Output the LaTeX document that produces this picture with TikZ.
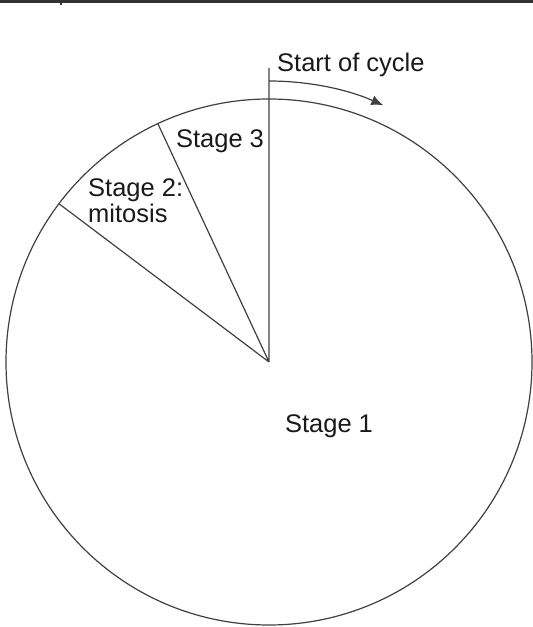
\documentclass[tikz,border=0pt]{standalone}
\usepackage{fontspec}
\setmainfont{Liberation Sans}
\usetikzlibrary{arrows.meta,calc}

\begin{document}
\begin{tikzpicture}[x=1pt,y=1pt,
            pie/.style={draw=black!75,line width=1.2pt},
            lbl/.style={font=\fontsize{25.5}{26}\selectfont,inner sep=0pt,text=black!90}]
            \useasboundingbox (0,0) rectangle (533,627);
            % frame line at the top
            \draw[line width=2.5pt,black!80] (0,625.5) -- (533,625.5);
            \draw[line width=1.5pt,black!80] (61,627) -- (61,622);
            % the cycle
            \coordinate (o) at (269,265);
            \draw[pie] (o) circle (263);
            \coordinate (top) at ($(o)+(90:294)$);
            \coordinate (s3) at ($(o)+(115:263)$);
            \coordinate (s2) at ($(o)+(143:263)$);
            \draw[pie] (o) -- (top) (o) -- (s3) (o) -- (s2);
            \coordinate (a) at ($(o)+(90:281)$);
            \draw[pie,-{Latex[length=12pt,width=10pt]}] (a) arc (90:66:281);
            % labels
            \node (start) at (277,555) [lbl,anchor=base west] {Start of cycle};
            \node (st3) at (220,479) [lbl,anchor=base] {Stage 3};
            \node (st2) at (88,404) [lbl,anchor=base west,align=left] {Stage 2:\\mitosis};
            \node (st1) at (329,194) [lbl,anchor=base] {Stage 1};
        \end{tikzpicture}
\end{document}
